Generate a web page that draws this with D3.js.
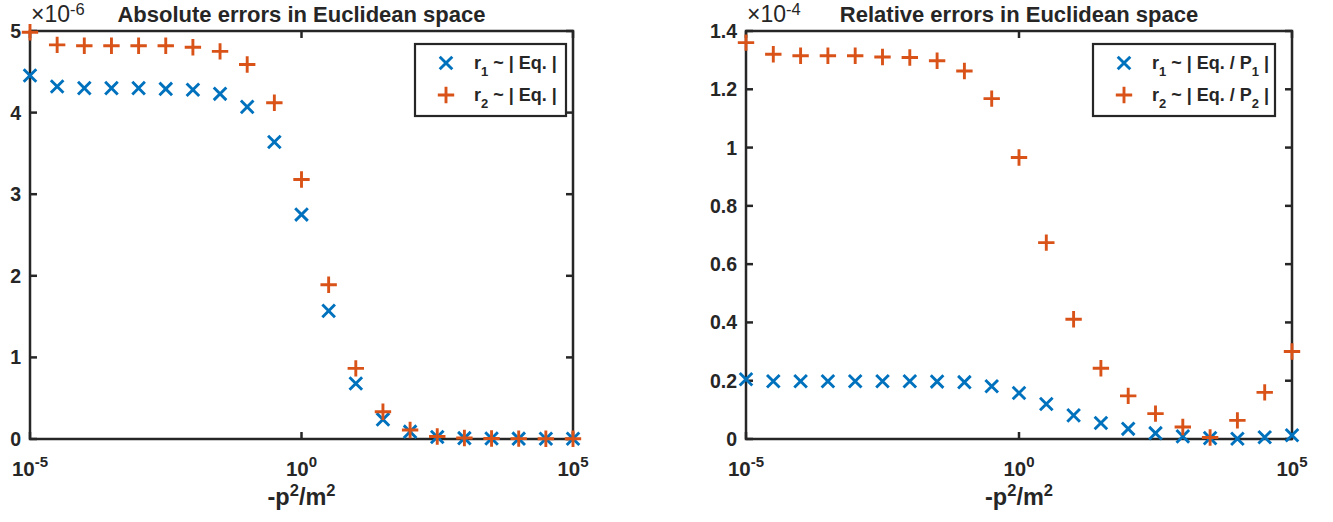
<!DOCTYPE html>
<html>
<head>
<meta charset="utf-8">
<script src="https://cdn.jsdelivr.net/npm/d3@7"></script>
<style>
  html, body { margin: 0; padding: 0; background: #fff; }
  svg text { font-family: "Liberation Sans", Arial, Helvetica, sans-serif; fill: #262626; }
</style>
</head>
<body>
<svg id="chart" width="1333" height="522"></svg>
<script>
/* ---------- data ---------- */
// x = 10^exp, exponents from -5 to 5 in half decades
const xExp = [-5, -4.5, -4, -3.5, -3, -2.5, -2, -1.5, -1, -0.5, 0,
              0.5, 1, 1.5, 2, 2.5, 3, 3.5, 4, 4.5, 5];

// absolute errors (x 1e-6)
const absR1 = [4.455, 4.32, 4.30, 4.30, 4.30, 4.29, 4.28, 4.23, 4.07, 3.64, 2.75,
               1.57, 0.68, 0.24, 0.09, 0.025, 0.01, 0.006, 0.004, 0.003, 0.003];
const absR2 = [4.985, 4.83, 4.82, 4.82, 4.82, 4.82, 4.80, 4.75, 4.59, 4.12, 3.18,
               1.89, 0.865, 0.334, 0.11, 0.03, 0.012, 0.006, 0.004, 0.003, 0.003];

// relative errors (x 1e-4)
const relR1 = [0.205, 0.198, 0.198, 0.198, 0.198, 0.198, 0.198, 0.197, 0.195, 0.181, 0.158,
               0.12, 0.081, 0.055, 0.035, 0.02, 0.009, 0.003, 0.001, 0.006, 0.013];
const relR2 = [1.36, 1.32, 1.315, 1.315, 1.315, 1.311, 1.309, 1.298, 1.263, 1.168, 0.966,
               0.674, 0.411, 0.243, 0.148, 0.087, 0.041, 0.005, 0.064, 0.16, 0.30];

const xTicks      = [1e-5, 1, 1e5];
const xTickExp    = ['-5', '0', '5'];
const absYTicks   = [0, 1, 2, 3, 4, 5];
const relYTicks   = [0, 0.2, 0.4, 0.6, 0.8, 1, 1.2, 1.4];

const blue   = '#0072BD';
const orange = '#D95319';
const ink    = '#262626';

/* ---------- helpers ---------- */
const svg = d3.select('#chart');

function drawPanel(cfg) {
  const g = svg.append('g');
  const x = d3.scaleLog().domain([1e-5, 1e5]).range([cfg.left, cfg.right]);
  const y = d3.scaleLinear().domain([0, cfg.yMax]).range([cfg.bottom, cfg.top]);
  const tk = 7;

  // box
  g.append('rect')
    .attr('x', cfg.left).attr('y', cfg.top)
    .attr('width', cfg.right - cfg.left).attr('height', cfg.bottom - cfg.top)
    .attr('fill', 'none').attr('stroke', ink).attr('stroke-width', 2.5);

  // y ticks (both sides, inward)
  cfg.yTicks.forEach(v => {
    const yy = y(v);
    g.append('line').attr('x1', cfg.left).attr('x2', cfg.left + tk)
      .attr('y1', yy).attr('y2', yy).attr('stroke', ink).attr('stroke-width', 2.5);
    g.append('line').attr('x1', cfg.right).attr('x2', cfg.right - tk)
      .attr('y1', yy).attr('y2', yy).attr('stroke', ink).attr('stroke-width', 2.5);
    g.append('text')
      .attr('x', cfg.left - 9).attr('y', yy + 7)
      .attr('text-anchor', 'end')
      .attr('font-size', 19.5).attr('font-weight', 'bold')
      .text(d3.format('~g')(v));
  });

  // x ticks
  xTicks.forEach((v, i) => {
    const xx = x(v);
    g.append('line').attr('x1', xx).attr('x2', xx)
      .attr('y1', cfg.bottom).attr('y2', cfg.bottom - tk).attr('stroke', ink).attr('stroke-width', 2.5);
    g.append('line').attr('x1', xx).attr('x2', xx)
      .attr('y1', cfg.top).attr('y2', cfg.top + tk).attr('stroke', ink).attr('stroke-width', 2.5);
    const t = g.append('text')
      .attr('x', xx).attr('y', cfg.bottom + 37)
      .attr('text-anchor', 'middle')
      .attr('font-size', 20.5).attr('font-weight', 'bold');
    t.append('tspan').text('10');
    t.append('tspan').attr('dy', -9).attr('font-size', 15).text(xTickExp[i]);
  });

  // x label
  const xl = g.append('text')
    .attr('x', (cfg.left + cfg.right) / 2).attr('y', cfg.bottom + 66)
    .attr('text-anchor', 'middle')
    .attr('font-size', 23.5).attr('font-weight', 'bold');
  xl.append('tspan').text('-p');
  xl.append('tspan').attr('dy', -9).attr('font-size', 16.5).text('2');
  xl.append('tspan').attr('dy', 9).text('/m');
  xl.append('tspan').attr('dy', -9).attr('font-size', 16.5).text('2');

  // title
  g.append('text')
    .attr('x', (cfg.left + cfg.right) / 2).attr('y', cfg.top - 9)
    .attr('text-anchor', 'middle')
    .attr('font-size', 22).attr('font-weight', 'bold')
    .text(cfg.title);

  // exponent
  const ex = g.append('text')
    .attr('x', cfg.left + 1).attr('y', cfg.top - 9)
    .attr('font-size', 23);
  ex.append('tspan').text('\u00d710');
  ex.append('tspan').attr('dy', -7).attr('font-size', 16.5).text(cfg.expo);

  // markers
  const pts1 = xExp.map((e, i) => ({ x: x(Math.pow(10, e)), y: y(cfg.r1[i]) }));
  const pts2 = xExp.map((e, i) => ({ x: x(Math.pow(10, e)), y: y(cfg.r2[i]) }));
  const s1 = 6.3, s2 = 8.2;

  g.append('g').selectAll('path').data(pts1).enter().append('path')
    .attr('d', d => `M${d.x - s1},${d.y - s1}L${d.x + s1},${d.y + s1}M${d.x - s1},${d.y + s1}L${d.x + s1},${d.y - s1}`)
    .attr('stroke', blue).attr('stroke-width', 2.9).attr('fill', 'none');
  g.append('g').selectAll('path').data(pts2).enter().append('path')
    .attr('d', d => `M${d.x - s2},${d.y}L${d.x + s2},${d.y}M${d.x},${d.y - s2}L${d.x},${d.y + s2}`)
    .attr('stroke', orange).attr('stroke-width', 2.9).attr('fill', 'none');

  // legend
  const lg = g.append('g');
  lg.append('rect')
    .attr('x', cfg.legX).attr('y', 44)
    .attr('width', cfg.legW).attr('height', 72)
    .attr('fill', '#fff').attr('stroke', ink).attr('stroke-width', 2.2);
  const mx = cfg.legX + 31;
  const rows = [63, 95];
  lg.append('path')
    .attr('d', `M${mx - s1},${rows[0] - s1}L${mx + s1},${rows[0] + s1}M${mx - s1},${rows[0] + s1}L${mx + s1},${rows[0] - s1}`)
    .attr('stroke', blue).attr('stroke-width', 2.9);
  lg.append('path')
    .attr('d', `M${mx - s2},${rows[1]}L${mx + s2},${rows[1]}M${mx},${rows[1] - s2}L${mx},${rows[1] + s2}`)
    .attr('stroke', orange).attr('stroke-width', 2.9);

  cfg.legText.forEach((parts, i) => {
    const t = lg.append('text')
      .attr('x', cfg.legX + 59).attr('y', rows[i] + 6)
      .attr('font-size', 18).attr('font-weight', 'bold');
    let shift = 0;
    parts.forEach(p => {
      if (p.sub) {
        t.append('tspan').attr('dy', 7 - shift).attr('font-size', 13).text(p.sub);
        shift = 7;
      } else {
        t.append('tspan').attr('dy', -shift).text(p.txt);
        shift = 0;
      }
    });
  });
}

/* ---------- panels ---------- */
drawPanel({
  left: 30, right: 573, top: 31, bottom: 439,
  yMax: 5, yTicks: absYTicks, r1: absR1, r2: absR2,
  title: 'Absolute errors in Euclidean space', expo: '-6',
  legX: 415, legW: 151,
  legText: [
    [{ txt: 'r' }, { sub: '1' }, { txt: ' ~ | Eq. |' }],
    [{ txt: 'r' }, { sub: '2' }, { txt: ' ~ | Eq. |' }]
  ]
});

drawPanel({
  left: 746, right: 1292, top: 31, bottom: 439,
  yMax: 1.4, yTicks: relYTicks, r1: relR1, r2: relR2,
  title: 'Relative errors in Euclidean space', expo: '-4',
  legX: 1093, legW: 182,
  legText: [
    [{ txt: 'r' }, { sub: '1' }, { txt: ' ~ | Eq. / P' }, { sub: '1' }, { txt: ' |' }],
    [{ txt: 'r' }, { sub: '2' }, { txt: ' ~ | Eq. / P' }, { sub: '2' }, { txt: ' |' }]
  ]
});
</script>
</body>
</html>
